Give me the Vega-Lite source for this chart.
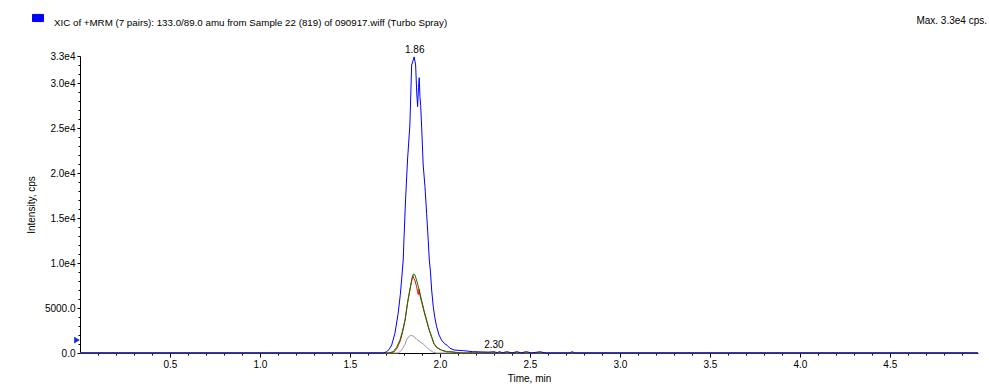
{
  "$schema": "https://vega.github.io/schema/vega-lite/v6.json",
  "width": 898,
  "height": 297,
  "autosize": {"type": "none"},
  "padding": {"left": 80, "top": 56, "right": 11, "bottom": 36},
  "background": "white",
  "config": {
    "view": {"stroke": null},
    "font": "Liberation Sans",
    "axis": {"grid": false, "labelFont": "Liberation Sans", "labelFontSize": 10, "labelColor": "black", "domainColor": "black", "tickColor": "black", "titleFont": "Liberation Sans", "titleFontWeight": "normal", "titleFontSize": 10, "titleColor": "black", "labelOverlap": false, "labelFlush": false, "zindex": 1}
  },
  "title": {"text": "Max. 3.3e4 cps.", "anchor": "end", "frame": "group", "dx": 9, "fontSize": 10, "fontWeight": "normal", "color": "black", "font": "Liberation Sans", "offset": -14},
  "datasets": {
    "traces": [
      {"trace": "pair 4", "t": 0, "i": 0},
      {"trace": "pair 4", "t": 1.768, "i": 0},
      {"trace": "pair 4", "t": 1.787, "i": 300},
      {"trace": "pair 4", "t": 1.796, "i": 630},
      {"trace": "pair 4", "t": 1.806, "i": 950},
      {"trace": "pair 4", "t": 1.815, "i": 1500},
      {"trace": "pair 4", "t": 1.83, "i": 1890},
      {"trace": "pair 4", "t": 1.843, "i": 1960},
      {"trace": "pair 4", "t": 1.857, "i": 1810},
      {"trace": "pair 4", "t": 1.87, "i": 1520},
      {"trace": "pair 4", "t": 1.889, "i": 1260},
      {"trace": "pair 4", "t": 1.907, "i": 1000},
      {"trace": "pair 4", "t": 1.926, "i": 630},
      {"trace": "pair 4", "t": 1.944, "i": 330},
      {"trace": "pair 4", "t": 1.963, "i": 80},
      {"trace": "pair 4", "t": 1.98, "i": 0},
      {"trace": "pair 4", "t": 4.99, "i": 0},

      {"trace": "pair 3", "t": 0, "i": 0},
      {"trace": "pair 3", "t": 1.72, "i": 0},
      {"trace": "pair 3", "t": 1.745, "i": 120},
      {"trace": "pair 3", "t": 1.762, "i": 550},
      {"trace": "pair 3", "t": 1.78, "i": 1350},
      {"trace": "pair 3", "t": 1.795, "i": 2500},
      {"trace": "pair 3", "t": 1.808, "i": 3800},
      {"trace": "pair 3", "t": 1.82, "i": 5500},
      {"trace": "pair 3", "t": 1.834, "i": 7100},
      {"trace": "pair 3", "t": 1.843, "i": 8000},
      {"trace": "pair 3", "t": 1.849, "i": 8600},
      {"trace": "pair 3", "t": 1.855, "i": 8300},
      {"trace": "pair 3", "t": 1.862, "i": 8000},
      {"trace": "pair 3", "t": 1.87, "i": 7400},
      {"trace": "pair 3", "t": 1.876, "i": 6800},
      {"trace": "pair 3", "t": 1.88, "i": 6500},
      {"trace": "pair 3", "t": 1.884, "i": 7100},
      {"trace": "pair 3", "t": 1.889, "i": 6400},
      {"trace": "pair 3", "t": 1.898, "i": 5700},
      {"trace": "pair 3", "t": 1.911, "i": 4650},
      {"trace": "pair 3", "t": 1.926, "i": 3550},
      {"trace": "pair 3", "t": 1.941, "i": 2500},
      {"trace": "pair 3", "t": 1.954, "i": 1750},
      {"trace": "pair 3", "t": 1.967, "i": 1000},
      {"trace": "pair 3", "t": 1.982, "i": 600},
      {"trace": "pair 3", "t": 2.009, "i": 300},
      {"trace": "pair 3", "t": 2.04, "i": 120},
      {"trace": "pair 3", "t": 2.06, "i": 150},
      {"trace": "pair 3", "t": 2.09, "i": 50},
      {"trace": "pair 3", "t": 2.12, "i": 0},
      {"trace": "pair 3", "t": 2.165, "i": 0},
      {"trace": "pair 3", "t": 2.17, "i": 130},
      {"trace": "pair 3", "t": 2.18, "i": 0},
      {"trace": "pair 3", "t": 4.99, "i": 0},

      {"trace": "pair 2", "t": 0, "i": 0},
      {"trace": "pair 2", "t": 1.713, "i": 0},
      {"trace": "pair 2", "t": 1.741, "i": 150},
      {"trace": "pair 2", "t": 1.759, "i": 630},
      {"trace": "pair 2", "t": 1.778, "i": 1440},
      {"trace": "pair 2", "t": 1.791, "i": 2370},
      {"trace": "pair 2", "t": 1.806, "i": 3670},
      {"trace": "pair 2", "t": 1.819, "i": 5520},
      {"trace": "pair 2", "t": 1.833, "i": 7000},
      {"trace": "pair 2", "t": 1.843, "i": 8110},
      {"trace": "pair 2", "t": 1.852, "i": 8780},
      {"trace": "pair 2", "t": 1.861, "i": 8670},
      {"trace": "pair 2", "t": 1.87, "i": 8110},
      {"trace": "pair 2", "t": 1.885, "i": 7000},
      {"trace": "pair 2", "t": 1.898, "i": 5890},
      {"trace": "pair 2", "t": 1.911, "i": 4780},
      {"trace": "pair 2", "t": 1.926, "i": 3670},
      {"trace": "pair 2", "t": 1.941, "i": 2560},
      {"trace": "pair 2", "t": 1.954, "i": 1810},
      {"trace": "pair 2", "t": 1.967, "i": 1070},
      {"trace": "pair 2", "t": 1.982, "i": 630},
      {"trace": "pair 2", "t": 2.009, "i": 330},
      {"trace": "pair 2", "t": 2.037, "i": 150},
      {"trace": "pair 2", "t": 2.093, "i": 70},
      {"trace": "pair 2", "t": 2.12, "i": 0},
      {"trace": "pair 2", "t": 4.99, "i": 0},

      {"trace": "XIC of +MRM (7 pairs): 133.0/89.0 amu from Sample 22 (819) of 090917.wiff (Turbo Spray)", "t": 0, "i": 0},
      {"trace": "XIC of +MRM (7 pairs): 133.0/89.0 amu from Sample 22 (819) of 090917.wiff (Turbo Spray)", "t": 1.685, "i": 0},
      {"trace": "XIC of +MRM (7 pairs): 133.0/89.0 amu from Sample 22 (819) of 090917.wiff (Turbo Spray)", "t": 1.704, "i": 150},
      {"trace": "XIC of +MRM (7 pairs): 133.0/89.0 amu from Sample 22 (819) of 090917.wiff (Turbo Spray)", "t": 1.718, "i": 400},
      {"trace": "XIC of +MRM (7 pairs): 133.0/89.0 amu from Sample 22 (819) of 090917.wiff (Turbo Spray)", "t": 1.732, "i": 890},
      {"trace": "XIC of +MRM (7 pairs): 133.0/89.0 amu from Sample 22 (819) of 090917.wiff (Turbo Spray)", "t": 1.75, "i": 2190},
      {"trace": "XIC of +MRM (7 pairs): 133.0/89.0 amu from Sample 22 (819) of 090917.wiff (Turbo Spray)", "t": 1.768, "i": 4410},
      {"trace": "XIC of +MRM (7 pairs): 133.0/89.0 amu from Sample 22 (819) of 090917.wiff (Turbo Spray)", "t": 1.78, "i": 6500},
      {"trace": "XIC of +MRM (7 pairs): 133.0/89.0 amu from Sample 22 (819) of 090917.wiff (Turbo Spray)", "t": 1.787, "i": 8110},
      {"trace": "XIC of +MRM (7 pairs): 133.0/89.0 amu from Sample 22 (819) of 090917.wiff (Turbo Spray)", "t": 1.796, "i": 10330},
      {"trace": "XIC of +MRM (7 pairs): 133.0/89.0 amu from Sample 22 (819) of 090917.wiff (Turbo Spray)", "t": 1.8, "i": 12550},
      {"trace": "XIC of +MRM (7 pairs): 133.0/89.0 amu from Sample 22 (819) of 090917.wiff (Turbo Spray)", "t": 1.809, "i": 17000},
      {"trace": "XIC of +MRM (7 pairs): 133.0/89.0 amu from Sample 22 (819) of 090917.wiff (Turbo Spray)", "t": 1.82, "i": 21440},
      {"trace": "XIC of +MRM (7 pairs): 133.0/89.0 amu from Sample 22 (819) of 090917.wiff (Turbo Spray)", "t": 1.833, "i": 25330},
      {"trace": "XIC of +MRM (7 pairs): 133.0/89.0 amu from Sample 22 (819) of 090917.wiff (Turbo Spray)", "t": 1.843, "i": 32000},
      {"trace": "XIC of +MRM (7 pairs): 133.0/89.0 amu from Sample 22 (819) of 090917.wiff (Turbo Spray)", "t": 1.857, "i": 32900},
      {"trace": "XIC of +MRM (7 pairs): 133.0/89.0 amu from Sample 22 (819) of 090917.wiff (Turbo Spray)", "t": 1.865, "i": 32000},
      {"trace": "XIC of +MRM (7 pairs): 133.0/89.0 amu from Sample 22 (819) of 090917.wiff (Turbo Spray)", "t": 1.871, "i": 29000},
      {"trace": "XIC of +MRM (7 pairs): 133.0/89.0 amu from Sample 22 (819) of 090917.wiff (Turbo Spray)", "t": 1.876, "i": 27370},
      {"trace": "XIC of +MRM (7 pairs): 133.0/89.0 amu from Sample 22 (819) of 090917.wiff (Turbo Spray)", "t": 1.881, "i": 29500},
      {"trace": "XIC of +MRM (7 pairs): 133.0/89.0 amu from Sample 22 (819) of 090917.wiff (Turbo Spray)", "t": 1.885, "i": 30590},
      {"trace": "XIC of +MRM (7 pairs): 133.0/89.0 amu from Sample 22 (819) of 090917.wiff (Turbo Spray)", "t": 1.889, "i": 28500},
      {"trace": "XIC of +MRM (7 pairs): 133.0/89.0 amu from Sample 22 (819) of 090917.wiff (Turbo Spray)", "t": 1.893, "i": 27500},
      {"trace": "XIC of +MRM (7 pairs): 133.0/89.0 amu from Sample 22 (819) of 090917.wiff (Turbo Spray)", "t": 1.898, "i": 25330},
      {"trace": "XIC of +MRM (7 pairs): 133.0/89.0 amu from Sample 22 (819) of 090917.wiff (Turbo Spray)", "t": 1.907, "i": 20890},
      {"trace": "XIC of +MRM (7 pairs): 133.0/89.0 amu from Sample 22 (819) of 090917.wiff (Turbo Spray)", "t": 1.917, "i": 18480},
      {"trace": "XIC of +MRM (7 pairs): 133.0/89.0 amu from Sample 22 (819) of 090917.wiff (Turbo Spray)", "t": 1.926, "i": 15520},
      {"trace": "XIC of +MRM (7 pairs): 133.0/89.0 amu from Sample 22 (819) of 090917.wiff (Turbo Spray)", "t": 1.935, "i": 12550},
      {"trace": "XIC of +MRM (7 pairs): 133.0/89.0 amu from Sample 22 (819) of 090917.wiff (Turbo Spray)", "t": 1.941, "i": 10330},
      {"trace": "XIC of +MRM (7 pairs): 133.0/89.0 amu from Sample 22 (819) of 090917.wiff (Turbo Spray)", "t": 1.948, "i": 8900},
      {"trace": "XIC of +MRM (7 pairs): 133.0/89.0 amu from Sample 22 (819) of 090917.wiff (Turbo Spray)", "t": 1.954, "i": 7000},
      {"trace": "XIC of +MRM (7 pairs): 133.0/89.0 amu from Sample 22 (819) of 090917.wiff (Turbo Spray)", "t": 1.963, "i": 5140},
      {"trace": "XIC of +MRM (7 pairs): 133.0/89.0 amu from Sample 22 (819) of 090917.wiff (Turbo Spray)", "t": 1.972, "i": 3900},
      {"trace": "XIC of +MRM (7 pairs): 133.0/89.0 amu from Sample 22 (819) of 090917.wiff (Turbo Spray)", "t": 1.982, "i": 2920},
      {"trace": "XIC of +MRM (7 pairs): 133.0/89.0 amu from Sample 22 (819) of 090917.wiff (Turbo Spray)", "t": 1.995, "i": 2000},
      {"trace": "XIC of +MRM (7 pairs): 133.0/89.0 amu from Sample 22 (819) of 090917.wiff (Turbo Spray)", "t": 2.009, "i": 1440},
      {"trace": "XIC of +MRM (7 pairs): 133.0/89.0 amu from Sample 22 (819) of 090917.wiff (Turbo Spray)", "t": 2.025, "i": 1050},
      {"trace": "XIC of +MRM (7 pairs): 133.0/89.0 amu from Sample 22 (819) of 090917.wiff (Turbo Spray)", "t": 2.04, "i": 850},
      {"trace": "XIC of +MRM (7 pairs): 133.0/89.0 amu from Sample 22 (819) of 090917.wiff (Turbo Spray)", "t": 2.056, "i": 520},
      {"trace": "XIC of +MRM (7 pairs): 133.0/89.0 amu from Sample 22 (819) of 090917.wiff (Turbo Spray)", "t": 2.08, "i": 330},
      {"trace": "XIC of +MRM (7 pairs): 133.0/89.0 amu from Sample 22 (819) of 090917.wiff (Turbo Spray)", "t": 2.13, "i": 260},
      {"trace": "XIC of +MRM (7 pairs): 133.0/89.0 amu from Sample 22 (819) of 090917.wiff (Turbo Spray)", "t": 2.18, "i": 150},
      {"trace": "XIC of +MRM (7 pairs): 133.0/89.0 amu from Sample 22 (819) of 090917.wiff (Turbo Spray)", "t": 2.23, "i": 120},
      {"trace": "XIC of +MRM (7 pairs): 133.0/89.0 amu from Sample 22 (819) of 090917.wiff (Turbo Spray)", "t": 2.27, "i": 100},
      {"trace": "XIC of +MRM (7 pairs): 133.0/89.0 amu from Sample 22 (819) of 090917.wiff (Turbo Spray)", "t": 2.30, "i": 140},
      {"trace": "XIC of +MRM (7 pairs): 133.0/89.0 amu from Sample 22 (819) of 090917.wiff (Turbo Spray)", "t": 2.32, "i": 40},
      {"trace": "XIC of +MRM (7 pairs): 133.0/89.0 amu from Sample 22 (819) of 090917.wiff (Turbo Spray)", "t": 2.33, "i": 150},
      {"trace": "XIC of +MRM (7 pairs): 133.0/89.0 amu from Sample 22 (819) of 090917.wiff (Turbo Spray)", "t": 2.35, "i": 20},
      {"trace": "XIC of +MRM (7 pairs): 133.0/89.0 amu from Sample 22 (819) of 090917.wiff (Turbo Spray)", "t": 2.37, "i": 150},
      {"trace": "XIC of +MRM (7 pairs): 133.0/89.0 amu from Sample 22 (819) of 090917.wiff (Turbo Spray)", "t": 2.40, "i": 20},
      {"trace": "XIC of +MRM (7 pairs): 133.0/89.0 amu from Sample 22 (819) of 090917.wiff (Turbo Spray)", "t": 2.43, "i": 150},
      {"trace": "XIC of +MRM (7 pairs): 133.0/89.0 amu from Sample 22 (819) of 090917.wiff (Turbo Spray)", "t": 2.45, "i": 10},
      {"trace": "XIC of +MRM (7 pairs): 133.0/89.0 amu from Sample 22 (819) of 090917.wiff (Turbo Spray)", "t": 2.48, "i": 150},
      {"trace": "XIC of +MRM (7 pairs): 133.0/89.0 amu from Sample 22 (819) of 090917.wiff (Turbo Spray)", "t": 2.51, "i": 0},
      {"trace": "XIC of +MRM (7 pairs): 133.0/89.0 amu from Sample 22 (819) of 090917.wiff (Turbo Spray)", "t": 2.555, "i": 140},
      {"trace": "XIC of +MRM (7 pairs): 133.0/89.0 amu from Sample 22 (819) of 090917.wiff (Turbo Spray)", "t": 2.59, "i": 0},
      {"trace": "XIC of +MRM (7 pairs): 133.0/89.0 amu from Sample 22 (819) of 090917.wiff (Turbo Spray)", "t": 2.72, "i": 0},
      {"trace": "XIC of +MRM (7 pairs): 133.0/89.0 amu from Sample 22 (819) of 090917.wiff (Turbo Spray)", "t": 2.735, "i": 150},
      {"trace": "XIC of +MRM (7 pairs): 133.0/89.0 amu from Sample 22 (819) of 090917.wiff (Turbo Spray)", "t": 2.75, "i": 0},
      {"trace": "XIC of +MRM (7 pairs): 133.0/89.0 amu from Sample 22 (819) of 090917.wiff (Turbo Spray)", "t": 4.99, "i": 0}
    ],
    "peaks": [
      {"t": 1.86, "i": 32900, "label": "1.86"},
      {"t": 2.30, "i": 140, "label": "2.30"}
    ],
    "marker": [
      {"t": 0, "i": 1440}
    ]
  },
  "layer": [
    {
      "data": {"name": "traces"},
      "mark": {"type": "line", "strokeWidth": 1, "clip": false},
      "encoding": {
        "x": {
          "field": "t", "type": "quantitative",
          "scale": {"domain": [0, 4.99], "nice": false, "zero": false},
          "axis": {"orient": "bottom", "values": [0.5, 1.0, 1.5, 2.0, 2.5, 3.0, 3.5, 4.0, 4.5], "format": ".1f", "tickSize": 4, "labelPadding": 2, "title": "Time, min", "titlePadding": 4}
        },
        "y": {
          "field": "i", "type": "quantitative",
          "scale": {"domain": [0, 33000], "nice": false, "zero": true},
          "axis": {"orient": "left", "values": [0, 5000, 10000, 15000, 20000, 25000, 30000, 33000], "tickSize": 3, "labelPadding": 2, "labelExpr": "datum.value == 0 ? '0.0' : (datum.value < 10000 ? format(datum.value, '.1f') : replace(format(datum.value, '.1e'), 'e+', 'e'))", "title": "Intensity, cps", "titlePadding": 8}
        },
        "color": {
          "field": "trace", "type": "nominal",
          "scale": {
            "domain": ["XIC of +MRM (7 pairs): 133.0/89.0 amu from Sample 22 (819) of 090917.wiff (Turbo Spray)", "pair 2", "pair 3", "pair 4"],
            "range": ["#0000ff", "#008000", "#ff0000", "#999999"]
          },
          "legend": {
            "orient": "none", "legendX": -48, "legendY": -44,
            "values": ["XIC of +MRM (7 pairs): 133.0/89.0 amu from Sample 22 (819) of 090917.wiff (Turbo Spray)"],
            "title": null, "padding": 0,
            "symbolType": "M-1,-0.65H1V0.65H-1Z", "symbolSize": 121,
            "symbolFillColor": "#0000ff", "symbolStrokeColor": "#000080", "symbolStrokeWidth": 1, "symbolOpacity": 1,
            "labelFont": "Liberation Sans", "labelFontSize": 9.75, "labelColor": "black", "labelOffset": 10, "labelLimit": 700, "labelBaseline": "top"
          }
        },
        "order": {"field": "t", "type": "quantitative"}
      }
    },
    {
      "data": {"name": "peaks"},
      "mark": {"type": "text", "baseline": "bottom", "dy": -2, "fontSize": 10, "color": "black", "font": "Liberation Sans"},
      "encoding": {
        "x": {"field": "t", "type": "quantitative", "axis": {"orient": "bottom", "values": [0.1,0.2,0.3,0.4,0.6,0.7,0.8,0.9,1.1,1.2,1.3,1.4,1.6,1.7,1.8,1.9,2.1,2.2,2.3,2.4,2.6,2.7,2.8,2.9,3.1,3.2,3.3,3.4,3.6,3.7,3.8,3.9,4.1,4.2,4.3,4.4,4.6,4.7,4.8,4.9], "labels": false, "domain": false, "tickSize": 2, "title": null}},
        "y": {"field": "i", "type": "quantitative", "axis": {"orient": "left", "values": [1000,2000,3000,4000,6000,7000,8000,9000,11000,12000,13000,14000,16000,17000,18000,19000,21000,22000,23000,24000,26000,27000,28000,29000,31000,32000], "labels": false, "domain": false, "tickSize": 2, "title": null}},
        "text": {"field": "label"}
      }
    },
    {
      "data": {"name": "marker"},
      "mark": {"type": "point", "shape": "triangle-right", "filled": true, "size": 45, "color": "#1030e0", "opacity": 1},
      "encoding": {
        "x": {"field": "t", "type": "quantitative", "axis": null},
        "y": {"field": "i", "type": "quantitative", "axis": null},
        "xOffset": {"value": -3}
      }
    }
  ],
  "resolve": {"axis": {"x": "independent", "y": "independent"}}
}
